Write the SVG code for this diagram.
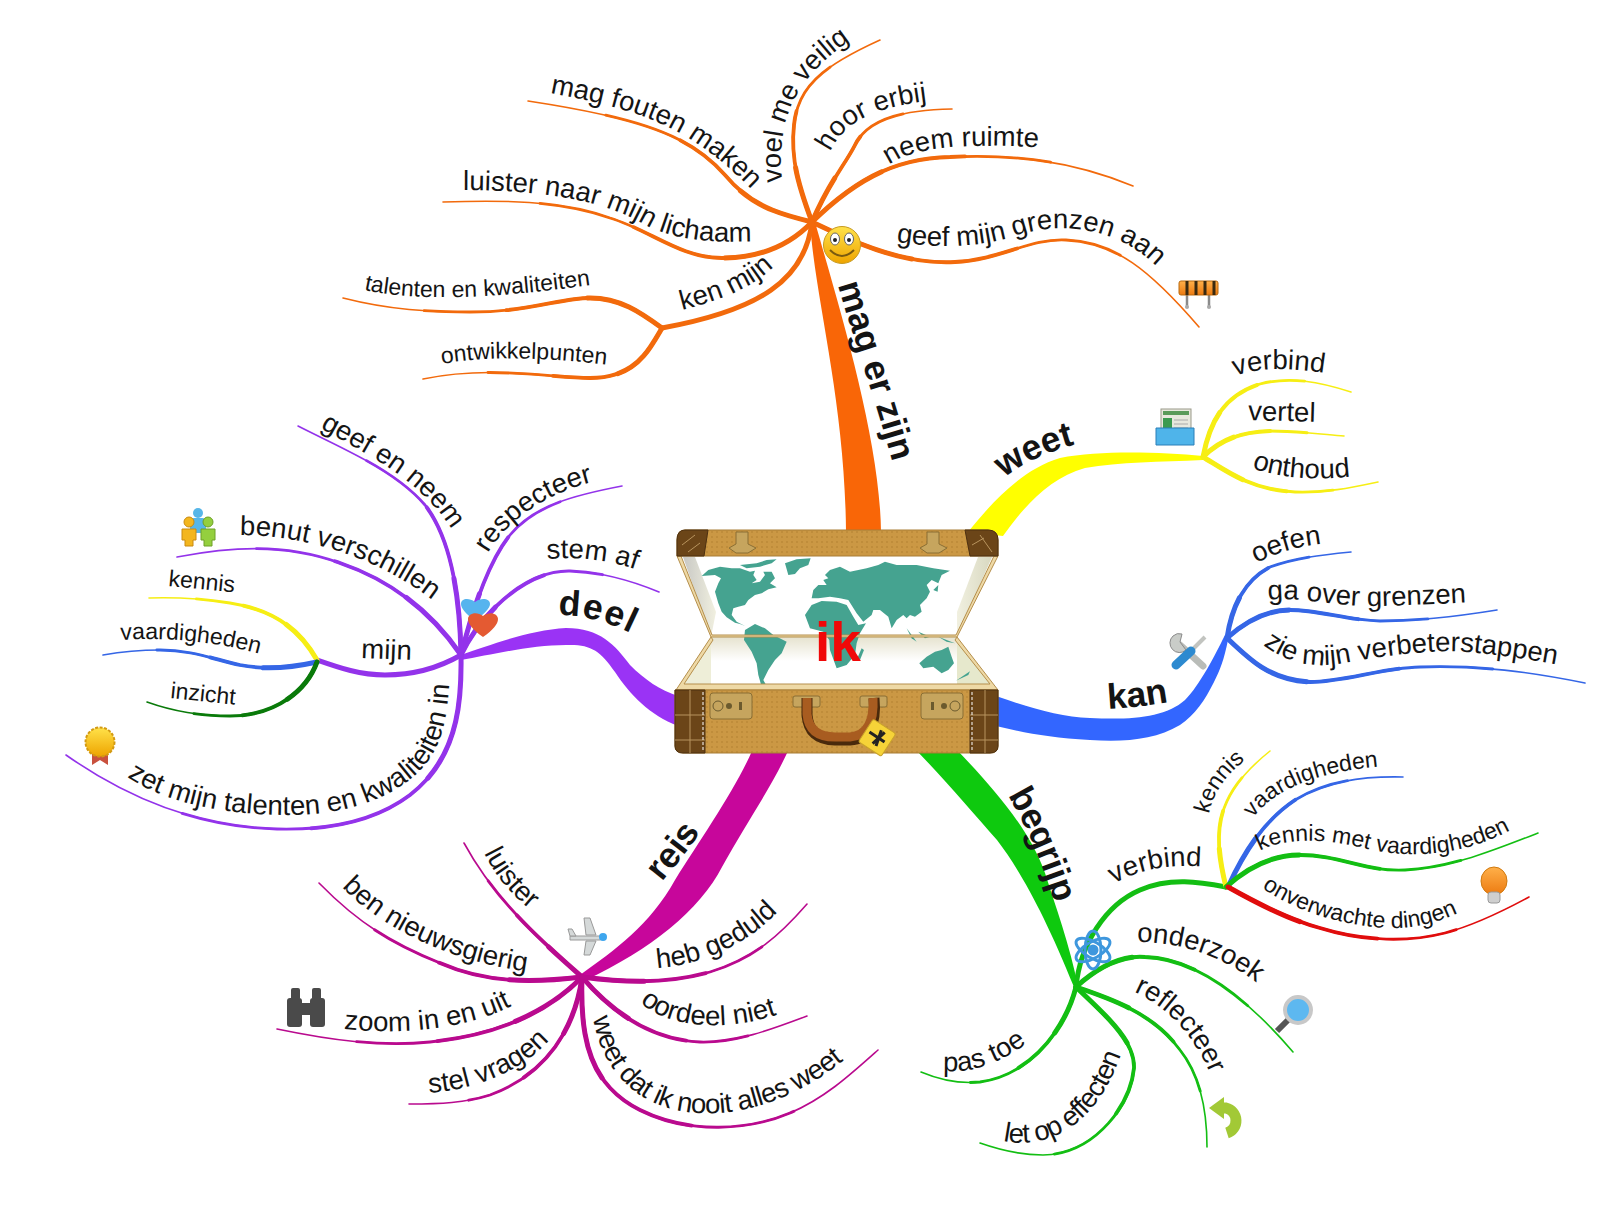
<svg xmlns="http://www.w3.org/2000/svg" width="1600" height="1216" viewBox="0 0 1600 1216">
<style>
text{font-family:"Liberation Sans",Arial,sans-serif;fill:#141414}
.l1{font-size:35.5px;font-weight:700}
.l2{font-size:27.5px}
.l3{font-size:23px}
.br use{fill:none;stroke-linecap:round}
.w1{stroke-width:1.6}
.w2{stroke-width:2.8;stroke-dasharray:75 300}
.w3{stroke-width:3.8;stroke-dasharray:50 300}
.w4{stroke-width:5;stroke-dasharray:25 300}
.o{stroke:#f26a0c}.p{stroke:#9333ea}.m{stroke:#b90a8e}.g{stroke:#13be13}.b{stroke:#3566e6}.y{stroke:#f6ee14}.dg{stroke:#0a7a0a}.r{stroke:#e00d0d}
.leather{fill:url(#dots);stroke:#a87c34;stroke-width:1}
.croc{fill:#6b4518;stroke:#4d3010;stroke-width:1}
.brass{fill:#c6a55e;stroke:#8a6f35;stroke-width:1}
.rim{fill:#eed9a6;stroke:#b58f4c;stroke-width:1}
</style>
<defs>
<pattern id="dots" width="5" height="5" patternUnits="userSpaceOnUse"><rect width="5" height="5" fill="#cb9844"/><circle cx="2" cy="2" r=".8" fill="#b17f30"/></pattern>
<linearGradient id="gy" x1="0" y1="0" x2="0" y2="1"><stop offset="0" stop-color="#ffe24a"/><stop offset="1" stop-color="#eea400"/></linearGradient>
<linearGradient id="or" x1="0" y1="0" x2="0" y2="1"><stop offset="0" stop-color="#ffb04a"/><stop offset="1" stop-color="#ec7a10"/></linearGradient>
<linearGradient id="sh" x1="0" y1="0" x2="1" y2="0"><stop offset="0" stop-color="#c8c8c4"/><stop offset="1" stop-color="#f1f0e0"/></linearGradient>
<linearGradient id="sh2" x1="0" y1="0" x2="1" y2="0"><stop offset="0" stop-color="#f1f0e0"/><stop offset="1" stop-color="#d8d8c0"/></linearGradient>
<linearGradient id="fl" x1="0" y1="0" x2="0" y2="1"><stop offset="0" stop-color="#e6e3cf"/><stop offset=".5" stop-color="#ffffff"/></linearGradient>

<!-- orange branches -->
<path id="b1" pathLength="100" d="M812 222C800 190 790 160 794 125C798 85 825 65 880 40"/>
<path id="b2" pathLength="100" d="M812 222C830 180 845 165 855 145C868 118 905 110 952 109"/>
<path id="b3" pathLength="100" d="M812 222C850 185 890 158 950 157C1010 154 1070 160 1133 186"/>
<path id="b4" pathLength="100" d="M812 222C850 240 900 265 955 262C1000 260 1030 238 1066 240C1115 242 1150 270 1199 327"/>
<path id="b5" pathLength="100" d="M812 222C775 213 750 205 725 175C690 135 640 118 528 101"/>
<path id="b6" pathLength="100" d="M812 222C790 245 760 258 722 258C680 258 650 230 610 218C560 200 500 200 443 202"/>
<path id="b7" pathLength="100" d="M812 222C805 280 760 310 662 328"/>
<path id="b8" pathLength="100" d="M662 328C640 312 620 298 590 298C560 298 530 312 470 312C430 312 390 310 343 298"/>
<path id="b9" pathLength="100" d="M662 328C648 352 635 378 590 378C550 378 490 365 423 379"/>
<!-- purple branches -->
<path id="b10" pathLength="100" d="M461 655C480 615 525 570 570 571C600 572 630 580 659 592"/>
<path id="b11" pathLength="100" d="M461 655C475 600 490 560 510 535C535 505 575 495 622 486"/>
<path id="b12" pathLength="100" d="M461 655C460 600 452 540 425 505C395 470 345 450 298 426"/>
<path id="b13" pathLength="100" d="M461 655C430 610 390 580 340 563C290 545 240 545 177 557"/>
<path id="b14" pathLength="100" d="M461 655C435 670 410 675 385 675C360 675 340 668 317 660"/>
<path id="b15" pathLength="100" d="M461 655C462 710 455 760 410 795C370 825 320 830 277 829C200 827 130 800 66 755"/>
<path id="b16" pathLength="100" d="M317 660C300 630 275 610 230 603C205 599 180 597 149 598"/>
<path id="b17" pathLength="100" d="M317 662C290 668 265 670 240 665C210 658 190 650 160 650C140 650 120 652 103 655"/>
<path id="b18" pathLength="100" d="M317 662C305 695 270 716 230 716C200 716 175 712 147 702"/>
<!-- magenta branches -->
<path id="b19" pathLength="100" d="M582 977C540 940 495 900 464 843"/>
<path id="b20" pathLength="100" d="M582 977C540 982 490 985 440 963C395 945 360 925 319 883"/>
<path id="b21" pathLength="100" d="M582 977C550 1010 500 1035 430 1042C380 1047 330 1040 277 1029"/>
<path id="b22" pathLength="100" d="M582 977C575 1030 545 1075 490 1095C465 1103 440 1104 409 1104"/>
<path id="b23" pathLength="100" d="M582 977C580 1040 590 1085 640 1110C690 1135 750 1130 790 1113C825 1098 850 1075 878 1050"/>
<path id="b24" pathLength="100" d="M582 977C610 1010 650 1040 700 1042C735 1043 770 1030 807 1016"/>
<path id="b25" pathLength="100" d="M582 977C620 982 665 985 710 972C755 958 780 935 807 904"/>
<!-- green branches -->
<path id="b26" pathLength="100" d="M1076 987C1080 945 1105 905 1140 890C1170 877 1200 882 1226 887"/>
<path id="b27" pathLength="100" d="M1226 887C1212 830 1215 795 1270 751"/>
<path id="b28" pathLength="100" d="M1228 887C1245 850 1265 820 1295 800C1325 782 1360 776 1403 777"/>
<path id="b29" pathLength="100" d="M1226 887C1250 865 1275 855 1300 855C1340 855 1365 872 1405 870C1450 868 1495 850 1538 833"/>
<path id="b30" pathLength="100" d="M1228 887C1260 905 1290 920 1320 928C1365 942 1410 942 1445 933C1475 925 1505 910 1529 897"/>
<path id="b31" pathLength="100" d="M1076 987C1100 965 1125 955 1145 957C1190 958 1240 990 1293 1052"/>
<path id="b32" pathLength="100" d="M1076 987C1115 1000 1155 1015 1180 1050C1200 1075 1207 1110 1207 1147"/>
<path id="b33" pathLength="100" d="M1076 987C1105 1015 1135 1040 1134 1068C1130 1110 1090 1155 1043 1155C1020 1155 1000 1150 980 1143"/>
<path id="b34" pathLength="100" d="M1076 987C1065 1030 1030 1075 980 1082C960 1084 940 1080 921 1072"/>
<!-- yellow branches -->
<path id="b35" pathLength="100" d="M1203 457C1210 420 1225 395 1260 384C1290 376 1320 382 1351 392"/>
<path id="b36" pathLength="100" d="M1203 457C1220 440 1240 432 1270 431C1295 431 1320 434 1344 436"/>
<path id="b37" pathLength="100" d="M1203 457C1225 470 1250 490 1295 492C1325 493 1350 488 1378 482"/>
<!-- blue branches -->
<path id="b38" pathLength="100" d="M1227 638C1232 605 1245 580 1270 567C1295 558 1320 555 1351 552"/>
<path id="b39" pathLength="100" d="M1227 638C1245 622 1265 610 1290 610C1320 610 1345 620 1380 621C1420 621 1460 616 1497 610"/>
<path id="b40" pathLength="100" d="M1227 638C1250 660 1270 680 1310 682C1345 682 1380 668 1420 667C1480 665 1530 672 1585 683"/>

<!-- label baselines -->
<path id="t1" d="M838 285C850 330 878 405 900 490"/>
<path id="t2" d="M782 182C778 130 785 85 851 40"/>
<path id="t3" d="M830 152C843 125 868 107 936 100"/>
<path id="t4" d="M889 165C914 145 979 143 1048 148"/>
<path id="t5" d="M896 242C948 250 988 245 1018 235C1058 222 1116 225 1158 268"/>
<path id="t6" d="M550 93C640 110 688 125 752 190"/>
<path id="t7" d="M463 190C540 190 600 200 640 222C670 240 710 243 756 241"/>
<path id="t8" d="M682 310C722 300 762 285 784 255"/>
<path id="t9" d="M364 290C420 302 500 298 590 285"/>
<path id="t10" d="M442 364C490 355 550 358 610 365"/>
<path id="t11" d="M558 615C585 615 610 622 640 638"/>
<path id="t12" d="M547 559C580 556 615 560 650 575"/>
<path id="t13" d="M488 553C506 522 546 492 600 480"/>
<path id="t14" d="M320 428C368 455 423 480 455 535"/>
<path id="t15" d="M240 535C300 535 380 555 445 610"/>
<path id="t16" d="M361 658L415 660"/>
<path id="t17" d="M168 586L240 593"/>
<path id="t18" d="M121 640C165 637 215 641 264 655"/>
<path id="t19" d="M170 698L238 705"/>
<path id="t20" d="M127 777C170 805 230 815 290 815C350 815 400 795 425 765C445 740 448 710 450 672"/>
<path id="t21" d="M662 882C675 865 690 850 704 826"/>
<path id="t22" d="M484 853C495 875 510 895 537 915"/>
<path id="t23" d="M342 887C373 920 438 960 530 972"/>
<path id="t24" d="M344 1029C400 1035 470 1030 519 1002"/>
<path id="t25" d="M429 1093C470 1090 520 1075 553 1036"/>
<path id="t26" d="M593 1018C600 1060 625 1095 668 1108C730 1125 800 1100 856 1050"/>
<path id="t27" d="M640 1002C663 1025 720 1035 782 1013"/>
<path id="t28" d="M657 968C700 965 750 945 784 905"/>
<path id="t29" d="M1008 795C1025 825 1042 860 1060 920"/>
<path id="t30" d="M1114 884C1137 870 1172 862 1212 868"/>
<path id="t31" d="M1209 814C1213 795 1223 778 1245 760"/>
<path id="t32" d="M1253 818C1274 790 1314 772 1384 766"/>
<path id="t33" d="M1260 851C1283 838 1323 838 1363 848C1413 860 1468 855 1516 827"/>
<path id="t34" d="M1262 888C1294 910 1339 925 1384 928C1409 929 1434 925 1462 911"/>
<path id="t35" d="M1137 942C1180 942 1225 955 1268 992"/>
<path id="t36" d="M1134 992C1165 1005 1195 1035 1212 1078"/>
<path id="t37" d="M1003 1141C1050 1150 1100 1125 1124 1045"/>
<path id="t38" d="M943 1071C975 1074 1005 1060 1030 1041"/>
<path id="t39" d="M1004 478C1027 460 1052 450 1088 441"/>
<path id="t40" d="M1235 376C1263 366 1298 368 1336 375"/>
<path id="t41" d="M1248 420L1320 422"/>
<path id="t42" d="M1252 468C1279 478 1319 481 1354 476"/>
<path id="t43" d="M1108 709C1127 708 1147 706 1174 701"/>
<path id="t44" d="M1256 563C1278 552 1303 545 1330 543"/>
<path id="t45" d="M1268 600C1301 596 1341 608 1381 606C1411 605 1441 604 1472 602"/>
<path id="t46" d="M1263 645C1283 660 1308 668 1338 664C1388 655 1438 648 1478 653C1508 656 1533 660 1565 666"/>
</defs>

<rect width="1600" height="1216" fill="#fff"/>

<g id="connectors">
<g id="trunks">
<path fill="#f96607" d="M810 222C815 300 845 400 846 532L881 532C880 440 840 310 815 222Z"/>
<path fill="#9a33f5" d="M461 655C490 645 530 630 566 628C600 628 615 645 630 665C645 680 660 690 678 696L678 726C650 715 630 695 615 672C600 650 590 644 566 645C530 645 490 655 461 660Z"/>
<path fill="#c7069b" d="M580 975C615 950 650 925 675 880C700 840 735 790 752 751L788 751C770 790 745 825 722 867C700 910 650 950 586 980Z"/>
<path fill="#0ec90e" d="M917 751C945 780 975 815 997 840C1020 870 1045 915 1074 987L1078 987C1070 945 1055 905 1045 873C1030 830 995 790 958 751Z"/>
<path fill="#ffff00" d="M968 532C990 505 1020 470 1060 458C1100 450 1160 452 1203 456L1203 460C1160 462 1120 462 1085 468C1050 478 1025 505 1003 536Z"/>
<path fill="#3366ff" d="M996 696C1030 708 1060 717 1090 718C1130 720 1165 718 1185 700C1200 685 1215 655 1225 635L1228 640C1224 660 1220 670 1214 682C1205 700 1195 715 1180 725C1155 740 1125 742 1090 740C1050 738 1025 733 996 726Z"/>
</g>
<g class="br">
<g class="o"><use href="#b1" class="w1"/><use href="#b1" class="w2"/><use href="#b1" class="w3"/><use href="#b1" class="w4"/></g>
<g class="o"><use href="#b2" class="w1"/><use href="#b2" class="w2"/><use href="#b2" class="w3"/><use href="#b2" class="w4"/></g>
<g class="o"><use href="#b3" class="w1"/><use href="#b3" class="w2"/><use href="#b3" class="w3"/><use href="#b3" class="w4"/></g>
<g class="o"><use href="#b4" class="w1"/><use href="#b4" class="w2"/><use href="#b4" class="w3"/><use href="#b4" class="w4"/></g>
<g class="o"><use href="#b5" class="w1"/><use href="#b5" class="w2"/><use href="#b5" class="w3"/><use href="#b5" class="w4"/></g>
<g class="o"><use href="#b6" class="w1"/><use href="#b6" class="w2"/><use href="#b6" class="w3"/><use href="#b6" class="w4"/></g>
<g class="o"><use href="#b7" class="w4" style="stroke-dasharray:none"/></g>
<g class="o"><use href="#b8" class="w1"/><use href="#b8" class="w2"/><use href="#b8" class="w3"/><use href="#b8" class="w4"/></g>
<g class="o"><use href="#b9" class="w1"/><use href="#b9" class="w2"/><use href="#b9" class="w3"/><use href="#b9" class="w4"/></g>
<g class="p"><use href="#b10" class="w1"/><use href="#b10" class="w2"/><use href="#b10" class="w3"/><use href="#b10" class="w4"/></g>
<g class="p"><use href="#b11" class="w1"/><use href="#b11" class="w2"/><use href="#b11" class="w3"/><use href="#b11" class="w4"/></g>
<g class="p"><use href="#b12" class="w1"/><use href="#b12" class="w2"/><use href="#b12" class="w3"/><use href="#b12" class="w4"/></g>
<g class="p"><use href="#b13" class="w1"/><use href="#b13" class="w2"/><use href="#b13" class="w3"/><use href="#b13" class="w4"/></g>
<g class="p"><use href="#b14" class="w4" style="stroke-dasharray:none"/></g>
<g class="p"><use href="#b15" class="w1"/><use href="#b15" class="w2"/><use href="#b15" class="w3"/><use href="#b15" class="w4"/></g>
<g class="y"><use href="#b16" class="w1"/><use href="#b16" class="w2"/><use href="#b16" class="w3"/><use href="#b16" class="w4"/></g>
<g class="b"><use href="#b17" class="w1"/><use href="#b17" class="w2"/><use href="#b17" class="w3"/><use href="#b17" class="w4"/></g>
<g class="dg"><use href="#b18" class="w1"/><use href="#b18" class="w2"/><use href="#b18" class="w3"/><use href="#b18" class="w4"/></g>
<g class="m"><use href="#b19" class="w1"/><use href="#b19" class="w2"/><use href="#b19" class="w3"/><use href="#b19" class="w4"/></g>
<g class="m"><use href="#b20" class="w1"/><use href="#b20" class="w2"/><use href="#b20" class="w3"/><use href="#b20" class="w4"/></g>
<g class="m"><use href="#b21" class="w1"/><use href="#b21" class="w2"/><use href="#b21" class="w3"/><use href="#b21" class="w4"/></g>
<g class="m"><use href="#b22" class="w1"/><use href="#b22" class="w2"/><use href="#b22" class="w3"/><use href="#b22" class="w4"/></g>
<g class="m"><use href="#b23" class="w1"/><use href="#b23" class="w2"/><use href="#b23" class="w3"/><use href="#b23" class="w4"/></g>
<g class="m"><use href="#b24" class="w1"/><use href="#b24" class="w2"/><use href="#b24" class="w3"/><use href="#b24" class="w4"/></g>
<g class="m"><use href="#b25" class="w1"/><use href="#b25" class="w2"/><use href="#b25" class="w3"/><use href="#b25" class="w4"/></g>
<g class="g"><use href="#b26" class="w4" style="stroke-dasharray:none"/></g>
<g class="y"><use href="#b27" class="w1"/><use href="#b27" class="w2"/><use href="#b27" class="w3"/><use href="#b27" class="w4"/></g>
<g class="b"><use href="#b28" class="w1"/><use href="#b28" class="w2"/><use href="#b28" class="w3"/><use href="#b28" class="w4"/></g>
<g class="g"><use href="#b29" class="w1"/><use href="#b29" class="w2"/><use href="#b29" class="w3"/><use href="#b29" class="w4"/></g>
<g class="r"><use href="#b30" class="w1"/><use href="#b30" class="w2"/><use href="#b30" class="w3"/><use href="#b30" class="w4"/></g>
<g class="g"><use href="#b31" class="w1"/><use href="#b31" class="w2"/><use href="#b31" class="w3"/><use href="#b31" class="w4"/></g>
<g class="g"><use href="#b32" class="w1"/><use href="#b32" class="w2"/><use href="#b32" class="w3"/><use href="#b32" class="w4"/></g>
<g class="g"><use href="#b33" class="w1"/><use href="#b33" class="w2"/><use href="#b33" class="w3"/><use href="#b33" class="w4"/></g>
<g class="g"><use href="#b34" class="w1"/><use href="#b34" class="w2"/><use href="#b34" class="w3"/><use href="#b34" class="w4"/></g>
<g class="y"><use href="#b35" class="w1"/><use href="#b35" class="w2"/><use href="#b35" class="w3"/><use href="#b35" class="w4"/></g>
<g class="y"><use href="#b36" class="w1"/><use href="#b36" class="w2"/><use href="#b36" class="w3"/><use href="#b36" class="w4"/></g>
<g class="y"><use href="#b37" class="w1"/><use href="#b37" class="w2"/><use href="#b37" class="w3"/><use href="#b37" class="w4"/></g>
<g class="b"><use href="#b38" class="w1"/><use href="#b38" class="w2"/><use href="#b38" class="w3"/><use href="#b38" class="w4"/></g>
<g class="b"><use href="#b39" class="w1"/><use href="#b39" class="w2"/><use href="#b39" class="w3"/><use href="#b39" class="w4"/></g>
<g class="b"><use href="#b40" class="w1"/><use href="#b40" class="w2"/><use href="#b40" class="w3"/><use href="#b40" class="w4"/></g>
</g>
</g>

<g id="node-ik">
<rect x="677" y="555" width="321" height="135" fill="#fff"/>
<polygon points="683,557 695,557 716,612 711,637" fill="url(#sh)"/>
<polygon points="992,557 978,557 957,612 957,637" fill="url(#sh2)"/>
<rect x="711" y="637" width="246" height="48" fill="url(#fl)"/>
<polygon points="711,637 711,684 684,684" fill="#eeeed8"/>
<polygon points="957,637 957,684 990,684" fill="#e6e8cc"/>
<g fill="#45a390" transform="translate(640 500) scale(.3333)">
<polygon points="185,228 205,210 240,200 275,205 300,205 330,215 345,212 340,225 350,240 335,250 360,245 375,225 370,215 395,215 405,235 390,250 410,262 385,268 365,280 345,285 325,300 315,315 295,320 280,325 275,345 290,365 315,378 300,372 285,368 260,352 245,335 235,310 225,275 235,250 243,235 225,225"/>
<polygon points="300,195 350,190 380,180 410,178 395,190 360,200 320,205"/>
<polygon points="435,190 470,178 512,175 505,195 480,205 465,222 445,225"/>
<polygon points="315,390 345,372 375,385 400,405 440,425 425,460 405,480 385,510 370,540 385,567 365,560 355,525 350,490 335,455 312,420"/>
<polygon points="515,295 520,270 535,255 560,255 550,240 565,235 555,225 570,210 600,200 615,208 630,215 680,205 715,195 735,185 770,195 830,195 880,205 930,212 905,225 895,250 875,240 860,255 870,275 860,295 840,315 845,335 825,350 810,345 800,355 790,345 770,360 755,385 745,350 720,330 700,330 695,345 670,365 650,340 625,300 600,295 570,290 535,295"/>
<polygon points="495,345 515,315 545,303 590,305 620,315 640,350 655,375 678,370 660,400 650,430 645,465 620,495 590,505 570,450 568,420 550,395 510,385"/>
<polygon points="665,445 672,450 660,480 652,475"/>
<polygon points="838,490 860,470 885,455 905,450 925,440 935,470 942,490 925,510 905,520 880,500 850,505"/>
<polygon points="800,385 830,425 815,415"/>
<polygon points="835,395 870,410 855,415"/>
<polygon points="895,410 945,430 920,425"/>
<polygon points="880,270 895,255 893,275"/>
<polygon points="948,542 990,514 985,525"/>
</g>
<path class="rim" d="M677 556L711 637L957 637L998 556L994 556L956 635L712 635L681 556Z"/>
<path class="rim" d="M711 637L676 690L998 690L957 637L955 640L990 684L684 684L713 640Z"/>
<path class="leather" d="M685 530H988Q998 530 998 540V556H677V540Q677 530 685 530Z"/>
<path class="croc" d="M685 530H708L704 556H677V540Q677 530 685 530Z"/>
<path class="croc" d="M965 530H988Q998 530 998 540V556H970Z"/>
<path d="M682 545L695 535M688 552L700 543M980 535L992 552M972 545L984 538" fill="none" stroke="#b8945e" stroke-width="1"/>
<path class="brass" d="M736 532H748V544L756 548L748 553H736L729 548L736 544Z"/>
<path class="brass" d="M927 532H939V544L947 548L939 553H927L920 548L927 544Z"/>
<path class="leather" d="M675 690H998V746Q998 753 990 753H683Q675 753 675 746Z"/>
<path class="croc" d="M675 690H705V753H683Q675 753 675 746Z"/>
<path class="croc" d="M970 690H998V746Q998 753 990 753H970Z"/>
<path d="M675 715H705M675 740H705M690 690V753M970 715H998M970 740H998M985 690V753" fill="none" stroke="#b8945e" stroke-width="1"/>
<path d="M703 692V752M972 692V752" fill="none" stroke="#fff" stroke-width="1" stroke-dasharray="3 2"/>
<rect class="brass" x="710" y="693" width="42" height="26" rx="3"/>
<rect class="brass" x="921" y="693" width="42" height="26" rx="3"/>
<circle cx="718" cy="706" r="5" fill="none" stroke="#6b5a2e"/><circle cx="729" cy="706" r="3" fill="#6b5a2e"/><rect x="739" y="702" width="3" height="8" fill="#6b5a2e"/>
<circle cx="955" cy="706" r="5" fill="none" stroke="#6b5a2e"/><circle cx="944" cy="706" r="3" fill="#6b5a2e"/><rect x="931" y="702" width="3" height="8" fill="#6b5a2e"/>
<rect class="brass" x="793" y="696" width="27" height="11" rx="2"/>
<rect class="brass" x="860" y="696" width="27" height="11" rx="2"/>
<path d="M807 698V715Q809 740 835 740H850Q878 738 874 698" fill="none" stroke="#4a2a0c" stroke-width="11"/>
<path d="M807 698V714Q809 737 835 737H850Q875 735 873 698" fill="none" stroke="#a85c20" stroke-width="9"/>
<g transform="rotate(33 877 737)"><rect x="864" y="724" width="27" height="27" rx="2" fill="#f6d338" stroke="#c9a32a"/><path d="M868 737H886M877 729L881 745M877 745L881 729" stroke="#222" stroke-width="3" fill="none"/></g>
<text x="815" y="661" font-size="55" font-weight="700" style="fill:#f00808">ik</text>
</g>

<g id="node-mag-er-zijn"><text class="l1"><textPath href="#t1">mag er zijn</textPath></text></g>
<g id="node-voel"><text class="l2"><textPath href="#t2">voel me veilig</textPath></text></g>
<g id="node-hoor"><text class="l2"><textPath href="#t3">hoor erbij</textPath></text></g>
<g id="node-neem"><text class="l2"><textPath href="#t4">neem ruimte</textPath></text></g>
<g id="node-grenzen"><text class="l2"><textPath href="#t5">geef mijn grenzen aan</textPath></text></g>
<g id="node-fouten"><text class="l2"><textPath href="#t6">mag fouten maken</textPath></text></g>
<g id="node-lichaam"><text class="l2"><textPath href="#t7">luister naar mijn lichaam</textPath></text></g>
<g id="node-kenmijn"><text class="l2"><textPath href="#t8">ken mijn</textPath></text></g>
<g id="node-talenten"><text class="l3"><textPath href="#t9">talenten en kwaliteiten</textPath></text></g>
<g id="node-ontwikkel"><text class="l3"><textPath href="#t10">ontwikkelpunten</textPath></text></g>
<g id="node-deel"><text class="l1" letter-spacing="1.5"><textPath href="#t11">deel</textPath></text></g>
<g id="node-stemaf"><text class="l2"><textPath href="#t12">stem af</textPath></text></g>
<g id="node-respecteer"><text class="l2"><textPath href="#t13">respecteer</textPath></text></g>
<g id="node-geefneem"><text class="l2"><textPath href="#t14">geef en neem</textPath></text></g>
<g id="node-benut"><text class="l2"><textPath href="#t15">benut verschillen</textPath></text></g>
<g id="node-mijn"><text class="l2"><textPath href="#t16">mijn</textPath></text></g>
<g id="node-kennis1"><text class="l3"><textPath href="#t17">kennis</textPath></text></g>
<g id="node-vaardig1"><text class="l3"><textPath href="#t18">vaardigheden</textPath></text></g>
<g id="node-inzicht"><text class="l3"><textPath href="#t19">inzicht</textPath></text></g>
<g id="node-zet"><text class="l2"><textPath href="#t20">zet mijn talenten en kwaliteiten in</textPath></text></g>
<g id="node-reis"><text class="l1"><textPath href="#t21">reis</textPath></text></g>
<g id="node-luister"><text class="l2"><textPath href="#t22">luister</textPath></text></g>
<g id="node-nieuws"><text class="l2"><textPath href="#t23">ben nieuwsgierig</textPath></text></g>
<g id="node-zoom"><text class="l2"><textPath href="#t24">zoom in en uit</textPath></text></g>
<g id="node-stel"><text class="l2"><textPath href="#t25">stel vragen</textPath></text></g>
<g id="node-weetdat"><text class="l2" letter-spacing="-.6"><textPath href="#t26">weet dat ik nooit alles weet</textPath></text></g>
<g id="node-oordeel"><text class="l2"><textPath href="#t27">oordeel niet</textPath></text></g>
<g id="node-geduld"><text class="l2"><textPath href="#t28">heb geduld</textPath></text></g>
<g id="node-begrijp"><text class="l1"><textPath href="#t29">begrijp</textPath></text></g>
<g id="node-verbind2"><text class="l2"><textPath href="#t30">verbind</textPath></text></g>
<g id="node-kennis2"><text class="l3"><textPath href="#t31">kennis</textPath></text></g>
<g id="node-vaardig2"><text class="l3"><textPath href="#t32">vaardigheden</textPath></text></g>
<g id="node-kmv"><text class="l3"><textPath href="#t33">kennis met vaardigheden</textPath></text></g>
<g id="node-onverwacht"><text class="l3"><textPath href="#t34">onverwachte dingen</textPath></text></g>
<g id="node-onderzoek"><text class="l2"><textPath href="#t35">onderzoek</textPath></text></g>
<g id="node-reflecteer"><text class="l2"><textPath href="#t36">reflecteer</textPath></text></g>
<g id="node-effecten"><text class="l2" letter-spacing="-.8"><textPath href="#t37">let op effecten</textPath></text></g>
<g id="node-pastoe"><text class="l2"><textPath href="#t38">pas toe</textPath></text></g>
<g id="node-weet"><text class="l1"><textPath href="#t39">weet</textPath></text></g>
<g id="node-verbind1"><text class="l2"><textPath href="#t40">verbind</textPath></text></g>
<g id="node-vertel"><text class="l2"><textPath href="#t41">vertel</textPath></text></g>
<g id="node-onthoud"><text class="l2"><textPath href="#t42">onthoud</textPath></text></g>
<g id="node-kan"><text class="l1"><textPath href="#t43">kan</textPath></text></g>
<g id="node-oefen"><text class="l2"><textPath href="#t44">oefen</textPath></text></g>
<g id="node-gaover"><text class="l2"><textPath href="#t45">ga over grenzen</textPath></text></g>
<g id="node-zie"><text class="l2"><textPath href="#t46">zie mijn verbeterstappen</textPath></text></g>

<g id="icons">
<g id="icon-smiley"><circle cx="842" cy="245" r="18.5" fill="url(#gy)" stroke="#c79a20"/><ellipse cx="835" cy="239" rx="4.5" ry="6" fill="#fff" stroke="#666"/><ellipse cx="849" cy="239" rx="4.5" ry="6" fill="#fff" stroke="#666"/><circle cx="835" cy="240" r="2" fill="#222"/><circle cx="849" cy="240" r="2" fill="#222"/><path d="M830 250Q842 262 854 250" fill="none" stroke="#7a5a10" stroke-width="2"/></g>
<g id="icon-barrier"><path d="M1187 294V308M1209 294V308" stroke="#8a8a8a" stroke-width="2.5"/><circle cx="1187" cy="307" r="2" fill="#aaa"/><circle cx="1209" cy="307" r="2" fill="#aaa"/><rect x="1179" y="281" width="39" height="14" rx="2" fill="url(#or)" stroke="#b96a10"/><path d="M1187 281V295M1196 281V295M1205 281V295M1214 281V295" stroke="#3a2a10" stroke-width="3"/></g>
<g id="icon-tray"><rect x="1161" y="409" width="30" height="26" fill="#e8e8de" stroke="#9a9a8a"/><rect x="1163" y="411" width="26" height="4" fill="#5a9a5a"/><rect x="1163" y="418" width="9" height="13" fill="#3c9a50"/><path d="M1174 420H1188M1174 424H1188M1174 428H1188" stroke="#aaa"/><path d="M1158 428H1194V445H1156V428Z" fill="#4fb4ea" stroke="#2b7fb8"/></g>
<g id="icon-tools"><path d="M1180 645L1203 666" stroke="#b9bcb8" stroke-width="7" stroke-linecap="round"/><path d="M1173 636A9 9 0 0 0 1186 650L1180 642L1182 634A9 9 0 0 0 1173 636Z" fill="#c9ccc8" stroke="#8a8a8a"/><path d="M1205 637L1191 651" stroke="#c2c4c0" stroke-width="4"/><path d="M1191 651L1176 665" stroke="#2d8ad0" stroke-width="9" stroke-linecap="round"/></g>
<g id="icon-bulb"><ellipse cx="1494" cy="881" rx="13" ry="14" fill="url(#or)" stroke="#d07a10"/><rect x="1488" y="892" width="12" height="11" rx="3" fill="#cfcfcf" stroke="#999"/></g>
<g id="icon-magnifier"><path d="M1288 1020L1277 1031" stroke="#555" stroke-width="6"/><circle cx="1298" cy="1010" r="13" fill="#5db8f0" stroke="#c8c8c8" stroke-width="4"/></g>
<g id="icon-undo"><path d="M1217 1108H1226A13 13 0 0 1 1227 1133" fill="none" stroke="#a2c936" stroke-width="11"/><polygon points="1209,1108 1224,1097 1224,1119" fill="#a2c936"/></g>
<g id="icon-atom" fill="none" stroke="#3e97dd" stroke-width="3"><ellipse cx="1093" cy="950" rx="8" ry="19"/><ellipse cx="1093" cy="950" rx="8" ry="19" transform="rotate(60 1093 950)"/><ellipse cx="1093" cy="950" rx="8" ry="19" transform="rotate(-60 1093 950)"/><circle cx="1093" cy="950" r="4" fill="#3e97dd"/></g>
<g id="icon-plane"><path d="M570 936H600Q607 937 600 940H570Z" fill="#d5d9d9" stroke="#999"/><path d="M584 918H590L596 935H586ZM584 955H590L596 941H586Z" fill="#d5d9d9" stroke="#999"/><path d="M568 929H572L576 936H570Z" fill="#d5d9d9" stroke="#999"/><ellipse cx="603" cy="937" rx="4" ry="4" fill="#3ea6ee"/></g>
<g id="icon-binoculars" fill="#4a4a4a"><rect x="287" y="998" width="15" height="29" rx="3"/><rect x="310" y="998" width="15" height="29" rx="3"/><rect x="291" y="988" width="9" height="12" rx="2"/><rect x="312" y="988" width="9" height="12" rx="2"/><rect x="300" y="1003" width="12" height="12"/></g>
<g id="icon-medal"><polygon points="92,752 108,752 108,765 100,760 92,765" fill="#c9513e"/><circle cx="100" cy="742" r="14.500" fill="url(#gy)" stroke="#d39a12" stroke-width="2" stroke-dasharray="3 1.500"/></g>
<g id="icon-people"><circle cx="198" cy="513" r="5" fill="#57b6e8"/><rect x="190" y="518" width="16" height="15" rx="4" fill="#57b6e8"/><circle cx="189" cy="522" r="5" fill="#f3b61e" stroke="#c98a10"/><path d="M182 529H196V540H193V546H185V540H182Z" fill="#f3b61e" stroke="#c98a10"/><circle cx="208" cy="522" r="5" fill="#94cf3e" stroke="#6ea028"/><path d="M201 529H215V540H212V546H204V540H201Z" fill="#94cf3e" stroke="#6ea028"/></g>
<g id="icon-hearts"><path d="M475 621C465 613 461 608 461 604C461 599 468 597 475 602C482 597 490 599 490 604C490 608 485 613 475 621Z" fill="#56b4ee"/><path d="M483 637C473 630 468 624 468 619C468 613 477 611 483 616C489 611 498 613 498 619C498 624 493 630 483 637Z" fill="#e45a32"/></g>
</g>
</svg>
